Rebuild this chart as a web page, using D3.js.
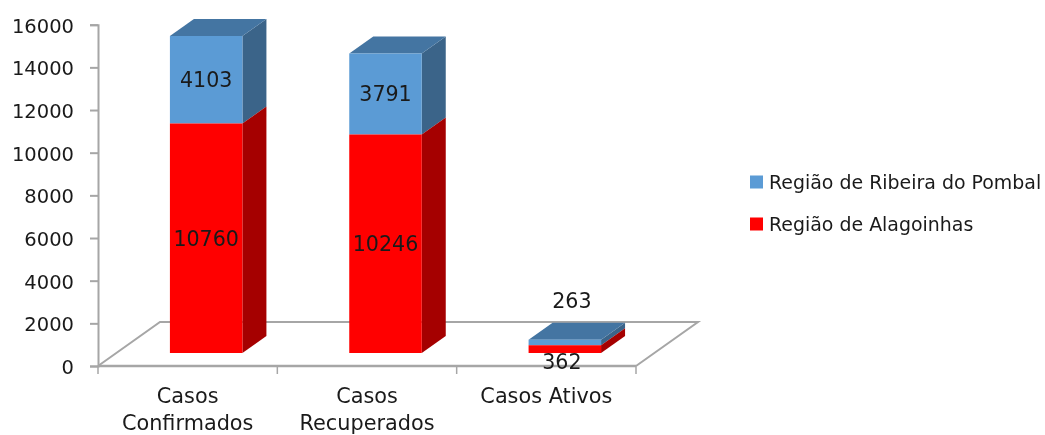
<!DOCTYPE html>
<html><head><meta charset="utf-8">
<script src="https://cdn.jsdelivr.net/npm/d3@7"></script>
<style>html,body{margin:0;background:#fff;overflow:hidden}svg{display:block;filter:blur(0.45px)}text{font-family:"DejaVu Sans";fill:#1a1a1a}</style>
</head><body><svg id="c" width="1045" height="435"></svg>
<script>
const categories=["Casos Confirmados","Casos Recuperados","Casos Ativos"];
const categoryLines=[["Casos","Confirmados"],["Casos","Recuperados"],["Casos Ativos"]];
const alagoinhas=[10760,10246,362];
const ribeira=[4103,3791,263];
const yTicks=[0,2000,4000,6000,8000,10000,12000,14000,16000];
const legendLabels=["Região de Ribeira do Pombal","Região de Alagoinhas"];
const colors={blue:"#5b9bd5",blueSide:"#3b6489",blueTop:"#4475a2",red:"#ff0000",redSide:"#a50000",axis:"#a6a6a6"};

const svg=d3.select("#c");
const y=d3.scaleLinear().domain([0,16000]).range([366,24.7]);
const x=d3.scaleBand().domain(categories).range([98,636]).paddingInner(0).paddingOuter(0);
const depth={x:62,y:44}, barDepth={x:24,y:17}, shift={x:18.5,y:13}, barW=72.5;

const floor=svg.append("g").attr("fill","none").attr("stroke",colors.axis).attr("stroke-width",2);
const x0=x.range()[0],x1=x.range()[1],y0=y(0);
floor.append("path").attr("d",d3.line()([[x0,y0],[x0+depth.x,y0-depth.y],[x1+depth.x,y0-depth.y],[x1,y0]]));

const ax=svg.append("g").attr("transform",`translate(${x0},0)`).call(d3.axisLeft(y).tickValues(yTicks).tickFormat(d3.format("d")).tickSize(8).tickPadding(16));
ax.selectAll("path,line").attr("stroke",colors.axis).attr("stroke-width",2);
ax.selectAll("text").style("font-size","19.5px").attr("dy","0.38em");
const bx=svg.append("g").attr("transform",`translate(0,${y0})`);
bx.append("path").attr("d",`M${x0},0H${x1}`).attr("stroke",colors.axis).attr("stroke-width",2.4);
const edges=[...categories.map(c=>x(c)),x1];
bx.selectAll("line").data(edges).join("line").attr("x1",d=>d).attr("x2",d=>d).attr("y1",0).attr("y2",8).attr("stroke",colors.axis).attr("stroke-width",1.5);

const poly=(p,f)=>svg.append("polygon").attr("points",p.map(q=>q.join(",")).join(" ")).attr("fill",f);
function seg(cat,lo,hi,front,side,top){
  const l=x(cat)+x.bandwidth()/2-barW/2+shift.x, r=l+barW;
  const yb=y(lo)-shift.y, yt=y(hi)-shift.y, d=barDepth;
  poly([[r,yb],[r+d.x,yb-d.y],[r+d.x,yt-d.y],[r,yt]],side);
  if(top) poly([[l,yt],[r,yt],[r+d.x,yt-d.y],[l+d.x,yt-d.y]],top);
  poly([[l,yb],[r,yb],[r,yt],[l,yt]],front);
}
categories.forEach((c,i)=>{
  seg(c,alagoinhas[i],alagoinhas[i]+ribeira[i],colors.blue,colors.blueSide,colors.blueTop);
  seg(c,0,alagoinhas[i],colors.red,colors.redSide,null);
});

const cx=c=>x(c)+x.bandwidth()/2+shift.x;
const lab=(t,px,py)=>svg.append("text").attr("x",px).attr("y",py).attr("text-anchor","middle").attr("dy","0.35em").style("font-size","20.6px").text(t);
categories.forEach((c,i)=>{
  if(i<2){
    lab(alagoinhas[i],cx(c),y(alagoinhas[i]/2)-shift.y+(i==0?1:0));
    lab(ribeira[i],cx(c),y(alagoinhas[i]+ribeira[i]/2)-shift.y+0);
  }else{
    lab(alagoinhas[i],cx(c)-3,362);
    lab(ribeira[i],cx(c)+7,301);
  }
});

categories.forEach((c,i)=>{
  const t=svg.append("text").attr("text-anchor","middle").style("font-size","20.8px");
  categoryLines[i].forEach((s,k)=>t.append("tspan").attr("x",x(c)+x.bandwidth()/2).attr("y",403+k*27).text(s));
});

const lg=svg.append("g");
[colors.blue,colors.red].forEach((f,i)=>{
  const yy=182+i*42;
  lg.append("rect").attr("x",750).attr("y",yy-6.5).attr("width",13).attr("height",13).attr("fill",f);
  lg.append("text").attr("x",769).attr("y",yy).attr("dy","0.35em").style("font-size","18.95px").text(legendLabels[i]);
});
</script></body></html>
